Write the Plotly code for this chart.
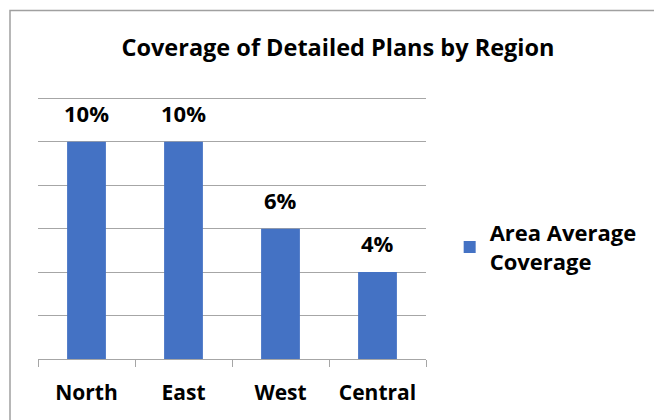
import plotly.graph_objects as go

regions = ["North", "East", "West", "Central"]
coverage = [0.10, 0.10, 0.06, 0.04]
labels = ["10%", "10%", "6%", "4%"]
series_name = "<b>Area Average<br>Coverage</b>"
title_text = "Coverage of Detailed Plans by Region"

FONT = "Open Sans"
BLUE = "#4472C4"

fig = go.Figure()
fig.add_trace(go.Bar(
    x=regions, y=coverage, name=series_name,
    marker=dict(color=BLUE, line=dict(width=0)),
    showlegend=True,
))

for r, v, t in zip(regions, coverage, labels):
    fig.add_annotation(x=r, y=v, text=f"<b>{t}</b>", showarrow=False,
                       yanchor="bottom", yshift=12,
                       font=dict(family=FONT, size=22, color="black"))

T, B = 94, 61
PH = 420 - T - B

def py(pix):
    return (420 - B - pix) / PH

fig.update_layout(
    width=654, height=420,
    margin=dict(l=38, r=228, t=T, b=B),
    paper_bgcolor="white", plot_bgcolor="white",
    bargap=0.6,
    title=dict(text=f"<b>{title_text}</b>", x=338/654, xanchor="center",
               y=1 - 48/420, yanchor="middle",
               font=dict(family=FONT, size=23.5, color="black")),
    legend=dict(x=1.061, y=py(212), xanchor="left", yanchor="top",
                font=dict(family=FONT, size=22, color="black"),
                bgcolor="rgba(0,0,0,0)", itemwidth=30),
    xaxis=dict(showline=True, linecolor="#a6a6a6", linewidth=1,
               ticks="outside", tickson="boundaries", ticklen=7,
               tickcolor="#a6a6a6", ticklabelstandoff=15,
               tickfont=dict(family=FONT, size=21, color="black"),
               showgrid=False),
    yaxis=dict(range=[0, 0.122], tick0=0, dtick=0.02, showticklabels=False,
               showgrid=True, gridcolor="#a6a6a6", gridwidth=1,
               zeroline=False, showline=False),
    shapes=[dict(type="rect", xref="paper", yref="paper",
                 x0=(10 - 38) / 388, x1=(680 - 38) / 388,
                 y0=py(440), y1=py(10.5),
                 line=dict(color="#a0a0a0", width=1.5), layer="below")],
)
fig.for_each_xaxis(lambda a: a.update(tickprefix="<b>", ticksuffix="</b>"))

fig.write_html("out.html", config={"displayModeBar": False},
               post_script="document.body.style.margin='0';document.body.style.overflow='hidden';")
